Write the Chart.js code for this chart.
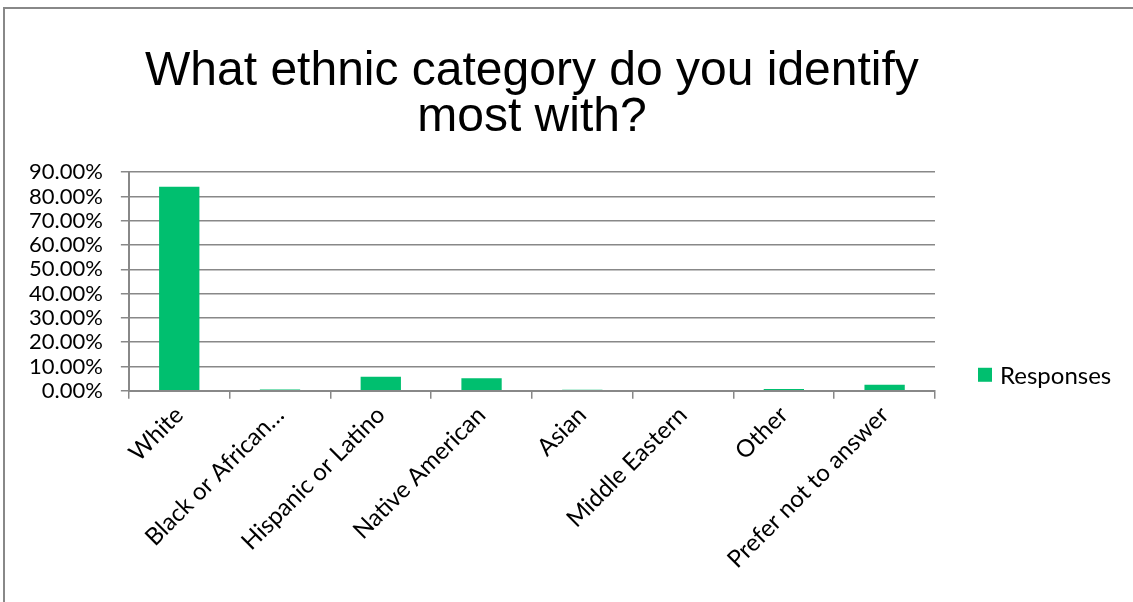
<!DOCTYPE html>
<html>
<head>
<meta charset="utf-8">
<script src="https://cdn.jsdelivr.net/npm/chart.js@4"></script>
<style>
html,body{margin:0;padding:0;background:#fff;overflow:hidden;}
#wrap{position:relative;width:1133px;height:602px;}
#frame{position:absolute;left:3px;top:7px;width:2000px;height:2000px;border-left:2px solid #888;border-top:2px solid #888;box-sizing:border-box;pointer-events:none;}
canvas{position:absolute;left:0;top:0;}
</style>
</head>
<body>
<div id="wrap">
<canvas id="c" width="1133" height="602"></canvas>
<div id="frame"></div>
</div>
<script>
const titleLines = ["What ethnic category do you identify", "most with?"];
const categories = ["White", "Black or African\u2026", "Hispanic or Latino", "Native American", "Asian", "Middle Eastern", "Other", "Prefer not to answer"];
const responses = [84.0, 0.5, 5.8, 5.2, 0.4, 0.0, 0.7, 2.5];
const seriesLabel = "Responses";
const yTicks = [0, 10, 20, 30, 40, 50, 60, 70, 80, 90];

const GREEN = '#00BF6F';
const GRID = '#888888';
const FONT = 'Lato, "Open Sans", sans-serif';

const customLegend = {
  id: 'customLegend',
  afterDraw(chart) {
    const ctx = chart.ctx;
    const ca = chart.chartArea;
    const ds = chart.data.datasets[0];
    const x = ca.right + 43;
    const yc = ca.bottom - 16;
    ctx.save();
    ctx.fillStyle = ds.backgroundColor;
    ctx.fillRect(x, yc - 7, 14, 14);
    ctx.fillStyle = '#000';
    ctx.font = '24px ' + FONT;
    ctx.textBaseline = 'middle';
    ctx.textAlign = 'left';
    ctx.fillText(ds.label, x + 22, yc + 1);
    ctx.restore();
  }
};

new Chart(document.getElementById('c'), {
  type: 'bar',
  data: {
    labels: categories,
    datasets: [{
      label: seriesLabel,
      data: responses,
      backgroundColor: GREEN,
      borderWidth: 0,
      barPercentage: 0.4,
      categoryPercentage: 1.0
    }]
  },
  options: {
    responsive: false,
    animation: false,
    layout: { padding: { left: 11, right: 198, top: 0, bottom: 26 } },
    plugins: {
      legend: { display: false },
      tooltip: { enabled: false },
      title: {
        display: true,
        text: titleLines,
        fullSize: false,
        color: '#000',
        font: { family: '"Liberation Sans", Arial, sans-serif', size: 48, weight: 'normal', lineHeight: 0.96 },
        padding: { top: 49, bottom: 31 }
      }
    },
    scales: {
      x: {
        grid: { display: true, drawOnChartArea: false, drawTicks: true, tickLength: 8, color: GRID, lineWidth: 1.5, offset: true },
        border: { display: true, color: GRID, width: 2 },
        ticks: {
          color: '#000', font: { family: FONT, size: 24 },
          maxRotation: 45, minRotation: 45, autoSkip: false, padding: 2
        }
      },
      y: {
        min: 0, max: 90,
        afterBuildTicks(axis) { axis.ticks = yTicks.map(v => ({ value: v })); },
        grid: { display: true, drawTicks: true, tickLength: 8, color: GRID, lineWidth: 1.5 },
        border: { display: true, color: GRID, width: 2 },
        ticks: {
          color: '#000', font: { family: FONT, size: 22 }, padding: 18, autoSkip: false,
          callback: v => Number(v).toFixed(2) + '%'
        }
      }
    }
  },
  plugins: [customLegend]
});
</script>
</body>
</html>
